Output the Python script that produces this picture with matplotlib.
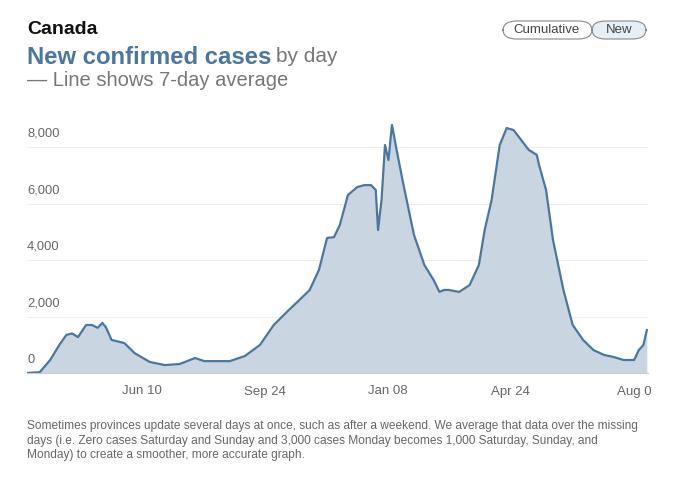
import matplotlib.pyplot as plt
from matplotlib.patches import FancyBboxPatch
import pandas as pd

# 7-day average of new cases
days = [0, 11, 20, 28, 34, 39, 44, 51, 56, 61, 65, 68, 73, 84, 93, 106, 119, 132, 145, 153,
        175, 188, 201, 213, 226, 235, 244, 252, 259, 265, 270, 277, 285, 291, 297, 301, 303,
        306, 309, 312, 315, 319, 325, 334, 343, 351, 356, 360, 364, 373, 382, 390, 395, 401,
        408, 414, 420, 433, 440, 442, 448, 454, 463, 471, 480, 489, 498, 506, 515, 524, 528,
        532, 535]
values = [0, 30, 460, 1000, 1350, 1400, 1270, 1700, 1700, 1600, 1770, 1630, 1170, 1060, 700,
          390, 280, 320, 530, 420, 420, 600, 990, 1700, 2230, 2580, 2940, 3650, 4780, 4810,
          5240, 6300, 6580, 6650, 6650, 6480, 5060, 6120, 8070, 7540, 8780, 7900, 6650, 4890,
          3820, 3290, 2870, 2940, 2940, 2870, 3110, 3820, 5060, 6120, 8070, 8670, 8600, 7900,
          7720, 7360, 6480, 4710, 2940, 1700, 1170, 810, 640, 570, 460, 460, 810, 990, 1520]
start = pd.Timestamp("2020-03-03")
dates = [start + pd.Timedelta(days=d) for d in days]
xticks = ["2020-06-10", "2020-09-24", "2021-01-08", "2021-04-24", "2021-08-09"]
xticklabels = ["Jun 10", "Sep 24", "Jan 08", "Apr 24", "Aug 0"]
yticks = [0, 2000, 4000, 6000, 8000]

plt.rcParams["font.family"] = ["Liberation Sans", "DejaVu Sans"]
blue = "#4a76a0"
W, H = 677, 479
fig = plt.figure(figsize=(W / 100, H / 100), dpi=100)
ax = fig.add_axes([27 / W, 1 - 373 / H, (648 - 27) / W, (373 - 118.75) / H])
ax.fill_between(dates, values, color="#c9d6e2", lw=0)
ax.plot(dates, values, color=blue, lw=1.6)
ax.set_xlim(dates[0], start + pd.Timedelta(days=536))
ax.set_ylim(0, 9000)
for s in ax.spines.values():
    s.set_visible(False)
ax.spines["bottom"].set_visible(True)
ax.spines["bottom"].set_color("#cccccc")
for y in yticks[1:]:
    ax.axhline(y, color="#eeeeee", lw=0.8, zorder=0)
for y in yticks:
    ax.text(0, y + 250, f"{y:,}", transform=ax.get_yaxis_transform(), fontsize=9.3,
            color="#666666", va="bottom", ha="left")
ax.set_yticks([])
ax.set_xticks([pd.Timestamp(t) for t in xticks])
ax.set_xticklabels(xticklabels, fontsize=9.5, color="#666666")
ax.tick_params(axis="x", length=0, pad=9)

fig.text(27 / W, 1 - 30 / H, "Canada", fontsize=14, fontweight="bold", color="#111111", va="center")
t1 = fig.text(27 / W, 1 - 57 / H, "New confirmed cases", fontsize=17.2, fontweight="bold", color=blue, va="center")
fig.canvas.draw()
bb = t1.get_window_extent()
fig.text(bb.x1 / W + 5 / W, 1 - 57 / H, "by day", fontsize=15, color="#777777", va="center")
fig.text(27 / W, 1 - 81 / H, "— Line shows 7-day average", fontsize=14.5, color="#777777", va="center")
fig.text(27 / W, 1 - 420 / H,
         "Sometimes provinces update several days at once, such as after a weekend. We average that data over the missing\n"
         "days (i.e. Zero cases Saturday and Sunday and 3,000 cases Monday becomes 1,000 Saturday, Sunday, and\n"
         "Monday) to create a smoother, more accurate graph.",
         fontsize=8.6, color="#666666", va="top", linespacing=1.3)

# toggle buttons
b1 = FancyBboxPatch((503 / W, 1 - 39 / H), 89 / W, 18 / H, boxstyle="round,pad=0,rounding_size=0.02",
                    transform=fig.transFigure, fc="white", ec="#888888", lw=0.8)
b2 = FancyBboxPatch((592 / W, 1 - 39 / H), 54 / W, 18 / H, boxstyle="round,pad=0,rounding_size=0.02",
                    transform=fig.transFigure, fc="#e6eef6", ec="#888888", lw=0.8)
fig.add_artist(b1)
fig.add_artist(b2)
fig.text(547 / W, 1 - 30 / H, "Cumulative", fontsize=9.5, color="#444444", ha="center", va="center")
fig.text(619 / W, 1 - 30 / H, "New", fontsize=9.5, color="#444444", ha="center", va="center")

fig.savefig("out.png", dpi=100)
